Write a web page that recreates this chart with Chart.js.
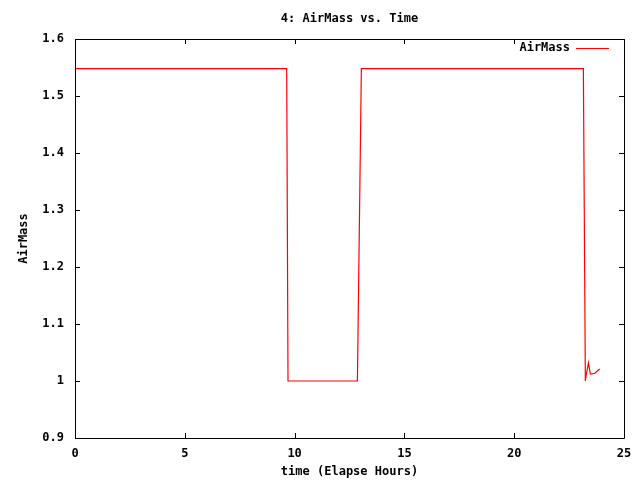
<!DOCTYPE html>
<html lang="en">
<head>
  <meta charset="UTF-8">
  <title>4: AirMass vs. Time</title>
  <script src="https://cdn.jsdelivr.net/npm/chart.js"></script>
  <style>
    html, body { margin: 0; padding: 0; background: white; }
    #wrap { width: 640px; height: 480px; }
  </style>
</head>
<body>
  <div id="wrap"><canvas id="airmassChart" width="640" height="480"></canvas></div>

  <script>
    // values
    const timeHours = [0, 9.64, 9.70, 12.86, 13.04, 23.15, 23.24, 23.28, 23.38, 23.47, 23.67, 23.89];
    const airMass   = [1.548, 1.548, 1.0, 1.0, 1.548, 1.548, 1.0, 1.0105, 1.0316, 1.0123, 1.0135, 1.021];
    const xTicks = [0, 5, 10, 15, 20, 25];
    const yTicks = [0.9, 1.0, 1.1, 1.2, 1.3, 1.4, 1.5, 1.6];

    const chartTitle = '4: AirMass vs. Time';
    const seriesLabel = 'AirMass';
    const fontFamily = '"DejaVu Sans Mono", "Liberation Mono", monospace';
    const baseFont = { family: fontFamily, size: 12, weight: 'bold' };

    // gnuplot-like frame, inward ticks, title and key
    const gnuplotLook = {
      id: 'gnuplotLook',
      afterDraw(chart) {
        const ctx = chart.ctx;
        const a = chart.chartArea;
        const xs = chart.scales.x, ys = chart.scales.y;
        const tl = 5;
        ctx.save();
        ctx.strokeStyle = '#000';
        ctx.lineWidth = 1;
        ctx.beginPath();
        ctx.rect(Math.round(a.left) + 0.5, Math.round(a.top) + 0.5,
                 Math.round(a.right - a.left), Math.round(a.bottom - a.top));
        xTicks.forEach(v => {
          const px = Math.round(xs.getPixelForValue(v)) + 0.5;
          ctx.moveTo(px, a.bottom); ctx.lineTo(px, a.bottom - tl);
          ctx.moveTo(px, a.top); ctx.lineTo(px, a.top + tl);
        });
        yTicks.forEach(v => {
          const py = Math.round(ys.getPixelForValue(v)) + 0.5;
          ctx.moveTo(a.left, py); ctx.lineTo(a.left + tl, py);
          ctx.moveTo(a.right, py); ctx.lineTo(a.right - tl, py);
        });
        ctx.stroke();

        ctx.fillStyle = '#000';
        ctx.font = 'bold 12px ' + fontFamily;
        ctx.textBaseline = 'middle';
        ctx.textAlign = 'center';
        ctx.fillText(chartTitle, (a.left + a.right) / 2, 19);

        // key
        ctx.textAlign = 'right';
        ctx.fillText(seriesLabel, a.right - 54, 48);
        ctx.strokeStyle = chart.data.datasets[0].borderColor;
        ctx.beginPath();
        ctx.moveTo(a.right - 48, 48.5);
        ctx.lineTo(a.right - 15, 48.5);
        ctx.stroke();
        ctx.restore();
      }
    };

    new Chart(document.getElementById('airmassChart'), {
      type: 'line',
      data: {
        labels: timeHours,
        datasets: [{
          label: seriesLabel,
          data: timeHours.map((t, i) => ({ x: t, y: airMass[i] })),
          borderColor: '#ff0000',
          borderWidth: 1.2,
          pointRadius: 0,
          tension: 0,
          fill: false
        }]
      },
      options: {
        responsive: false,
        animation: false,
        layout: { padding: { top: 39, right: 16, left: 0, bottom: 0 } },
        plugins: {
          legend: { display: false },
          title: { display: false },
          tooltip: { enabled: false }
        },
        scales: {
          x: {
            type: 'linear',
            min: 0,
            max: 25,
            afterBuildTicks: s => { s.ticks = xTicks.map(v => ({ value: v })); },
            afterFit: s => { s.height = 42; s.paddingLeft = 0; s.paddingRight = 0; },
            grid: { display: false, drawTicks: false },
            border: { display: false },
            ticks: { color: '#000', font: baseFont, padding: 9, maxRotation: 0 },
            title: { display: true, text: 'time (Elapse Hours)', color: '#000', font: baseFont, padding: { top: 0, bottom: 1 } }
          },
          y: {
            type: 'linear',
            min: 0.9,
            max: 1.6,
            afterBuildTicks: s => { s.ticks = yTicks.map(v => ({ value: v })); },
            afterFit: s => { s.width = 75; s.paddingTop = 0; s.paddingBottom = 0; },
            grid: { display: false, drawTicks: false },
            border: { display: false },
            ticks: {
              color: '#000', font: baseFont, padding: 11,
              callback: v => (Math.round(v * 10) / 10).toString()
            },
            title: { display: true, text: 'AirMass', color: '#000', font: baseFont, padding: { top: 17, bottom: 0 } }
          }
        }
      },
      plugins: [gnuplotLook]
    });
  </script>
</body>
</html>
